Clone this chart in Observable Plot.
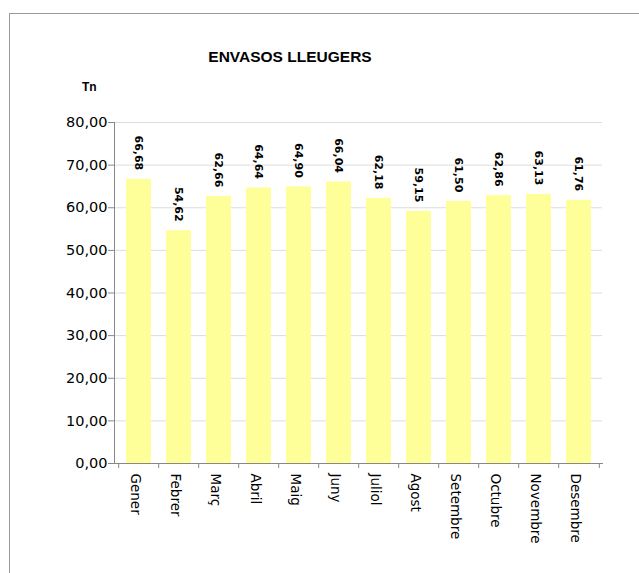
<!DOCTYPE html>
<html>
<head>
<meta charset="utf-8">
<script src="https://cdn.jsdelivr.net/npm/d3@7"></script>
<script src="https://cdn.jsdelivr.net/npm/@observablehq/plot@0.6"></script>
<style>
  html, body { margin: 0; padding: 0; background: #fff; overflow: hidden; }
  #wrap { position: relative; width: 639px; height: 573px; }
  #border { position: absolute; left: 9px; top: 13px; width: 700px; height: 700px; border: 1px solid #9a9a9a; box-sizing: border-box; }
  #title { position: absolute; left: 0; width: 580px; top: 48px; text-align: center; font: bold 15.5px "Liberation Sans", Arial, sans-serif; color: #000; }
  #unit { position: absolute; left: 82px; top: 80px; font: bold 12px "Liberation Sans", Arial, sans-serif; color: #000; }
  #chart { position: absolute; left: 0; top: 0; }
</style>
</head>
<body>
<div id="wrap">
  <div id="border"></div>
  <div id="chart"></div>
  <div id="title">ENVASOS LLEUGERS</div>
  <div id="unit">Tn</div>
</div>
<script>
const months = ["Gener","Febrer","Març","Abril","Maig","Juny","Juliol","Agost","Setembre","Octubre","Novembre","Desembre"];
const values = [66.68, 54.62, 62.66, 64.64, 64.90, 66.04, 62.18, 59.15, 61.50, 62.86, 63.13, 61.76];
const yTicks = [0, 10, 20, 30, 40, 50, 60, 70, 80];

const data = months.map((m, i) => ({month: m, value: values[i]}));
const fmt = v => v.toFixed(2).replace(".", ",");

const W = 639, H = 573;
const mL = 114, mR = 37, mT = 122, mB = 110;
const step = (W - mL - mR) / months.length;

const chart = Plot.plot({
  width: W,
  height: H,
  marginLeft: mL,
  marginRight: mR,
  marginTop: mT,
  marginBottom: mB,
  style: { fontFamily: "'DejaVu Sans', Verdana, sans-serif", background: "transparent", color: "#000" },
  x: { domain: months, paddingInner: 0.385, paddingOuter: 0.1925, label: null },
  y: { domain: [0, 80], label: null },
  marks: [
    Plot.gridY(yTicks, { stroke: "#dcdcdc", strokeOpacity: 1 }),
    Plot.barY(data, { x: "month", y: "value", fill: "#ffff99" }),
    Plot.text(data, {
      x: "month", y: "value", text: d => fmt(d.value),
      rotate: 90, textAnchor: "end", dy: -9,
      fontWeight: "bold", fontSize: 11, fill: "#000"
    }),
    Plot.ruleX(months, { x: d => d, y1: 0, y2: 0, insetBottom: -5, dx: -step / 2, stroke: "#888" }),
    Plot.ruleX([months[months.length - 1]], { x: d => d, y1: 0, y2: 0, insetBottom: -5, dx: step / 2, stroke: "#888" }),
    Plot.frame({ anchor: "left", stroke: "#888" }),
    Plot.frame({ anchor: "bottom", stroke: "#888" }),
    Plot.axisY({ ticks: yTicks, tickFormat: fmt, tickSize: 6, tickPadding: 1, stroke: "#888", fontSize: 14.5, fill: "#000", label: null }),
    Plot.axisX({ tickSize: 0, tickRotate: 90, tickPadding: 10, dx: -4, fontSize: 13.5, fill: "#000", label: null })
  ]
});
document.getElementById("chart").appendChild(chart);
</script>
</body>
</html>
